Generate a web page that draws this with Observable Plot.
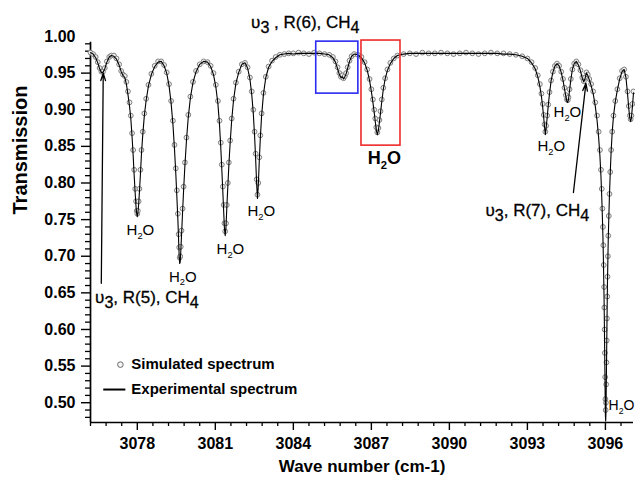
<!DOCTYPE html>
<html><head><meta charset="utf-8">
<script src="https://cdn.jsdelivr.net/npm/d3@7"></script>
<script src="https://cdn.jsdelivr.net/npm/@observablehq/plot@0.6"></script>
<style>body{margin:0;background:#fff;} #chart svg{display:block;}</style>
</head><body><div id="chart"></div>
<script>
// ---- spectrum data ----
const wavenumber = [
3076.20,3076.30,3076.40,3076.48,3076.55,3076.62,3076.68,3076.75,3076.83,3076.92,
3077.00,3077.10,3077.20,3077.30,3077.38,3077.45,3077.52,3077.58,3077.64,3077.70,
3077.75,3077.80,3077.84,3077.88,3077.92,3077.95,3077.98,3078.00,3078.02,3078.05,
3078.08,3078.12,3078.16,3078.21,3078.27,3078.34,3078.43,3078.54,3078.67,3078.80,
3078.92,3079.03,3079.13,3079.22,3079.30,3079.37,3079.43,3079.48,3079.52,3079.56,
3079.59,3079.61,3079.63,3079.65,3079.67,3079.70,3079.74,3079.78,3079.83,3079.89,
3079.96,3080.04,3080.14,3080.26,3080.40,3080.55,3080.70,3080.82,3080.93,3081.02,
3081.10,3081.16,3081.21,3081.25,3081.29,3081.32,3081.35,3081.38,3081.41,3081.44,
3081.48,3081.52,3081.57,3081.63,3081.70,3081.79,3081.90,3082.02,3082.14,3082.24,
3082.33,3082.40,3082.46,3082.51,3082.55,3082.59,3082.62,3082.65,3082.69,3082.73,
3082.78,3082.85,3082.94,3083.05,3083.18,3083.32,3083.48,3083.65,3083.82,3084.00,
3084.20,3084.40,3084.60,3084.80,3085.00,3085.20,3085.38,3085.52,3085.62,3085.70,
3085.77,3085.83,3085.88,3085.93,3085.98,3086.03,3086.09,3086.16,3086.24,3086.34,
3086.48,3086.62,3086.74,3086.84,3086.93,3087.00,3087.06,3087.11,3087.15,3087.19,
3087.23,3087.27,3087.31,3087.35,3087.40,3087.46,3087.53,3087.62,3087.73,3087.86,
3088.00,3088.24,3088.48,3088.72,3088.96,3089.20,3089.44,3089.68,3089.92,3090.16,
3090.40,3090.64,3090.88,3091.12,3091.36,3091.60,3091.84,3092.08,3092.32,3092.56,
3092.80,3093.00,3093.16,3093.30,3093.40,3093.48,3093.54,3093.59,3093.63,3093.66,
3093.69,3093.72,3093.76,3093.80,3093.85,3093.91,3093.98,3094.06,3094.14,3094.22,
3094.30,3094.37,3094.43,3094.48,3094.52,3094.55,3094.58,3094.62,3094.67,3094.73,
3094.80,3094.88,3094.96,3095.04,3095.11,3095.17,3095.22,3095.27,3095.32,3095.38,
3095.45,3095.53,3095.61,3095.68,3095.74,3095.79,3095.83,3095.86,3095.885,3095.905,
3095.92,3095.935,3095.95,3095.96,3095.97,3095.98,3095.99,3096.00,3096.01,3096.02,
3096.03,3096.04,3096.05,3096.06,3096.07,3096.08,3096.095,3096.11,3096.13,3096.155,
3096.185,3096.22,3096.26,3096.31,3096.38,3096.46,3096.55,3096.64,3096.72,3096.79,
3096.85,3096.90,3096.94,3096.97,3097.00,3097.04,3097.08
];
const simulated = [
0.978,0.976,0.972,0.965,0.957,0.952,0.952,0.957,0.966,0.972,
0.974,0.974,0.970,0.962,0.953,0.948,0.946,0.938,0.925,0.910,
0.892,0.868,0.845,0.818,0.792,0.775,0.762,0.758,0.762,0.775,
0.792,0.818,0.845,0.870,0.895,0.915,0.934,0.949,0.960,0.966,
0.966,0.961,0.951,0.935,0.912,0.885,0.852,0.820,0.790,0.758,
0.730,0.712,0.698,0.700,0.713,0.735,0.765,0.795,0.828,0.862,
0.893,0.918,0.938,0.953,0.962,0.966,0.965,0.960,0.950,0.934,
0.912,0.885,0.855,0.825,0.795,0.770,0.745,0.734,0.745,0.770,
0.800,0.828,0.858,0.888,0.915,0.937,0.952,0.962,0.964,0.958,
0.944,0.925,0.900,0.870,0.840,0.805,0.784,0.800,0.835,0.865,
0.895,0.923,0.945,0.959,0.967,0.972,0.975,0.976,0.977,0.977,
0.978,0.977,0.976,0.978,0.977,0.976,0.975,0.972,0.966,0.958,
0.950,0.945,0.947,0.943,0.946,0.950,0.958,0.967,0.973,0.976,
0.975,0.972,0.965,0.955,0.942,0.928,0.914,0.900,0.888,0.876,
0.869,0.875,0.886,0.898,0.914,0.930,0.943,0.955,0.964,0.970,
0.974,0.976,0.977,0.976,0.978,0.977,0.977,0.978,0.977,0.976,
0.977,0.978,0.977,0.976,0.977,0.978,0.977,0.977,0.976,0.975,
0.973,0.970,0.965,0.957,0.947,0.935,0.922,0.908,0.893,0.880,
0.870,0.878,0.892,0.907,0.924,0.940,0.952,0.960,0.963,0.960,
0.952,0.942,0.930,0.920,0.914,0.913,0.917,0.928,0.942,0.955,
0.963,0.966,0.962,0.954,0.944,0.939,0.944,0.951,0.948,0.942,
0.935,0.925,0.910,0.892,0.870,0.845,0.818,0.792,0.765,0.740,
0.715,0.688,0.658,0.630,0.600,0.568,0.535,0.505,0.490,0.500,
0.525,0.555,0.585,0.615,0.645,0.672,0.700,0.728,0.755,0.785,
0.815,0.845,0.870,0.892,0.912,0.928,0.943,0.953,0.955,0.945,
0.925,0.905,0.892,0.887,0.892,0.908,0.925
];
const experimental = [
0.978,0.976,0.971,0.964,0.956,0.951,0.951,0.956,0.965,0.972,
0.974,0.973,0.969,0.961,0.952,0.947,0.944,0.935,0.921,0.905,
0.888,0.862,0.838,0.810,0.785,0.768,0.757,0.754,0.758,0.770,
0.787,0.812,0.840,0.866,0.892,0.913,0.933,0.948,0.959,0.965,
0.966,0.960,0.950,0.933,0.909,0.880,0.846,0.813,0.782,0.750,
0.720,0.700,0.690,0.692,0.705,0.728,0.760,0.790,0.824,0.858,
0.890,0.916,0.937,0.952,0.962,0.966,0.965,0.959,0.948,0.931,
0.908,0.880,0.848,0.818,0.787,0.762,0.738,0.728,0.740,0.765,
0.795,0.824,0.855,0.886,0.913,0.936,0.951,0.962,0.964,0.957,
0.942,0.921,0.895,0.864,0.833,0.798,0.779,0.795,0.830,0.861,
0.892,0.921,0.944,0.958,0.966,0.971,0.975,0.976,0.977,0.976,
0.977,0.977,0.977,0.977,0.977,0.976,0.975,0.971,0.965,0.956,
0.948,0.944,0.945,0.942,0.945,0.949,0.957,0.966,0.973,0.976,
0.975,0.971,0.964,0.954,0.940,0.925,0.910,0.896,0.884,0.872,
0.866,0.872,0.883,0.895,0.911,0.928,0.942,0.954,0.963,0.970,
0.974,0.976,0.977,0.977,0.977,0.977,0.977,0.977,0.977,0.977,
0.977,0.977,0.977,0.977,0.977,0.977,0.977,0.976,0.976,0.975,
0.973,0.970,0.964,0.956,0.945,0.932,0.918,0.903,0.888,0.876,
0.866,0.875,0.889,0.905,0.922,0.939,0.951,0.960,0.963,0.960,
0.951,0.940,0.928,0.918,0.911,0.910,0.914,0.926,0.941,0.955,
0.963,0.966,0.961,0.953,0.943,0.938,0.943,0.950,0.947,0.941,
0.933,0.922,0.905,0.885,0.862,0.836,0.808,0.780,0.752,0.726,
0.700,0.670,0.638,0.608,0.576,0.543,0.510,0.482,0.475,0.485,
0.512,0.545,0.577,0.608,0.639,0.667,0.696,0.725,0.752,0.783,
0.813,0.843,0.869,0.891,0.911,0.927,0.942,0.952,0.955,0.944,
0.922,0.901,0.888,0.884,0.889,0.905,0.923
];

// ---- axes ----
const xDomain = [3076.2, 3097.08];
const yDomain = [0.473, 1.0];
const xTickLabels = [3078, 3081, 3084, 3087, 3090, 3093, 3096];
const yTickLabels = [0.50, 0.55, 0.60, 0.65, 0.70, 0.75, 0.80, 0.85, 0.90, 0.95, 1.00];
const yMajorMarks = yTickLabels.filter(v => v < 0.99);
const xMinor = d3.range(0, 35).map(i => 3076.2 + i * 0.6)
  .filter(v => Math.abs((v - 3078) / 3 - Math.round((v - 3078) / 3)) > 1e-6);
const yMinor = d3.range(48, 100).filter(i => i % 5 !== 0).map(i => i / 100);

// ---- annotations (label positions) ----
const h2oLabels = [
  {x: 3078.12, y: 0.735}, {x: 3079.75, y: 0.672}, {x: 3081.58, y: 0.710},
  {x: 3082.77, y: 0.762}, {x: 3093.92, y: 0.850}, {x: 3094.54, y: 0.896}
];
const h2oEdgeLabel = [{x: 3096.12, y: 0.496}];
const h2oBoxLabel = [{x: 3087.5, y: 0.834}];
const bandLabels = [
  {x: 3084.46, y: 1.019, text: "υ~3 , R(6), CH~4"},
  {x: 3078.37, y: 0.644, text: "υ~3, R(5), CH~4"},
  {x: 3093.38, y: 0.762, text: "υ~3, R(7), CH~4"}
];
const arrows = [
  {x1: 3076.615, y1: 0.663, x2: 3076.69, y2: 0.950},
  {x1: 3094.77, y1: 0.787, x2: 3095.25, y2: 0.936}
];
const boxes = [
  {x1: 3084.88, x2: 3086.50, y1: 0.922, y2: 0.993, color: "#2a2af2"},
  {x1: 3086.62, x2: 3088.12, y1: 0.851, y2: 0.9945, color: "#ee2a2a"}
];
const legendItems = [
  {label: "Simulated spectrum", x: 3077.35, y: 0.552},
  {label: "Experimental spectrum", x1: 3076.69, x2: 3077.54, y: 0.518}
];
const legendTextX = 3077.77;

const simRows = wavenumber.map((w, i) => ({w, t: simulated[i]}));
const expRows = wavenumber.map((w, i) => ({w, t: experimental[i]}));

const font = "'Liberation Sans', Arial, Helvetica, sans-serif";

const chart = Plot.plot({
  width: 635, height: 484,
  marginLeft: 90, marginRight: 2, marginTop: 36, marginBottom: 62,
  x: {domain: xDomain},
  y: {domain: yDomain},
  style: {fontFamily: font, background: "white", color: "black", overflow: "visible"},
  marks: [
    Plot.axisY(yMajorMarks, {tickSize: 9, tickFormat: () => "", strokeWidth: 1.4, label: null}),
    Plot.axisY(yMinor, {tickSize: 5, tickFormat: () => "", strokeWidth: 1.3, label: null}),
    Plot.axisY(yTickLabels, {tickSize: 0, tickPadding: 15, tickFormat: d => d.toFixed(2), fontSize: 16, fontWeight: "bold", label: null}),
    Plot.axisX(xTickLabels, {tickSize: 8, tickFormat: () => "", strokeWidth: 1.4, label: null}),
    Plot.axisX(xMinor, {tickSize: 4, tickFormat: () => "", strokeWidth: 1.3, label: null}),
    Plot.axisX(xTickLabels, {tickSize: 0, tickPadding: 15, tickFormat: d => String(d), fontSize: 16, fontWeight: "bold", label: null}),
    Plot.ruleX([xDomain[0]], {y1: yDomain[0], y2: 0.992, strokeWidth: 1.7}),
    Plot.ruleY([yDomain[0]], {x1: xDomain[0], x2: xDomain[1], strokeWidth: 1.7}),
    Plot.dot(simRows, {x: "w", y: "t", r: 2.4, stroke: "#808080", fill: "#efefef", strokeWidth: 1}),
    Plot.line(expRows, {x: "w", y: "t", stroke: "#000", strokeWidth: 1.1}),
    Plot.rect(boxes, {x1: "x1", x2: "x2", y1: "y1", y2: "y2", stroke: d => d.color, fill: "none", strokeWidth: 1.6}),
    Plot.arrow(arrows, {x1: "x1", y1: "y1", x2: "x2", y2: "y2", stroke: "#000", strokeWidth: 1.3, headLength: 9, headAngle: 35}),
    Plot.text(h2oLabels, {x: "x", y: "y", text: () => "H_2O", fontSize: 15, fill: "#000"}),
    Plot.text(h2oEdgeLabel, {x: "x", y: "y", text: () => "H_2O", fontSize: 14, textAnchor: "start", fill: "#000"}),
    Plot.text(h2oBoxLabel, {x: "x", y: "y", text: () => "H_2O", fontSize: 18, fontWeight: "bold", fill: "#000"}),
    Plot.text(bandLabels, {x: "x", y: "y", text: "text", fontSize: 17, fill: "#000", stroke: "#000", strokeWidth: 0.3, strokeOpacity: 1}),
    Plot.dot(legendItems.slice(0, 1), {x: "x", y: "y", r: 2.8, stroke: "#666", fill: "#f6f6f6", strokeWidth: 1}),
    Plot.link(legendItems.slice(1), {x1: "x1", x2: "x2", y1: "y", y2: "y", stroke: "#000", strokeWidth: 2}),
    Plot.text(legendItems, {x: () => legendTextX, y: "y", text: "label", textAnchor: "start", fontSize: 15, fontWeight: "bold", fill: "#000"}),
    Plot.text(["Transmission"], {frameAnchor: "left", dx: -70, dy: -15, rotate: -90, fontSize: 20, fontWeight: "bold", fill: "#000"}),
    Plot.text(["Wave number (cm-1)"], {frameAnchor: "bottom", lineAnchor: "middle", dy: 44, fontSize: 17, fontWeight: "bold", fill: "#000"})
  ]
});

document.getElementById("chart").appendChild(chart);

// subscripts: "_d" small subscript, "~d" large lowered digit
(function subscripts(svg) {
  const ns = "http://www.w3.org/2000/svg";
  svg.querySelectorAll("text").forEach(t => {
    const s = t.textContent;
    if (!/[_~]\d/.test(s)) return;
    const fs = parseFloat(getComputedStyle(t).fontSize) || 15;
    const parts = s.split(/([_~])(\d)/);
    t.textContent = "";
    const mk = str => { const e = document.createElementNS(ns, "tspan"); e.textContent = str; t.appendChild(e); return e; };
    if (parts[0]) mk(parts[0]);
    for (let i = 1; i < parts.length; i += 3) {
      const big = parts[i] === "~";
      const dy = fs * (big ? 0.28 : 0.26);
      const sub = mk(parts[i + 1]);
      sub.setAttribute("font-size", (fs * (big ? 0.95 : 0.62)).toFixed(1));
      sub.setAttribute("dy", dy.toFixed(1));
      const rest = parts[i + 2];
      if (rest) { const r = mk(rest); r.setAttribute("dy", (-dy).toFixed(1)); }
    }
  });
})(chart);
</script>
</body></html>
